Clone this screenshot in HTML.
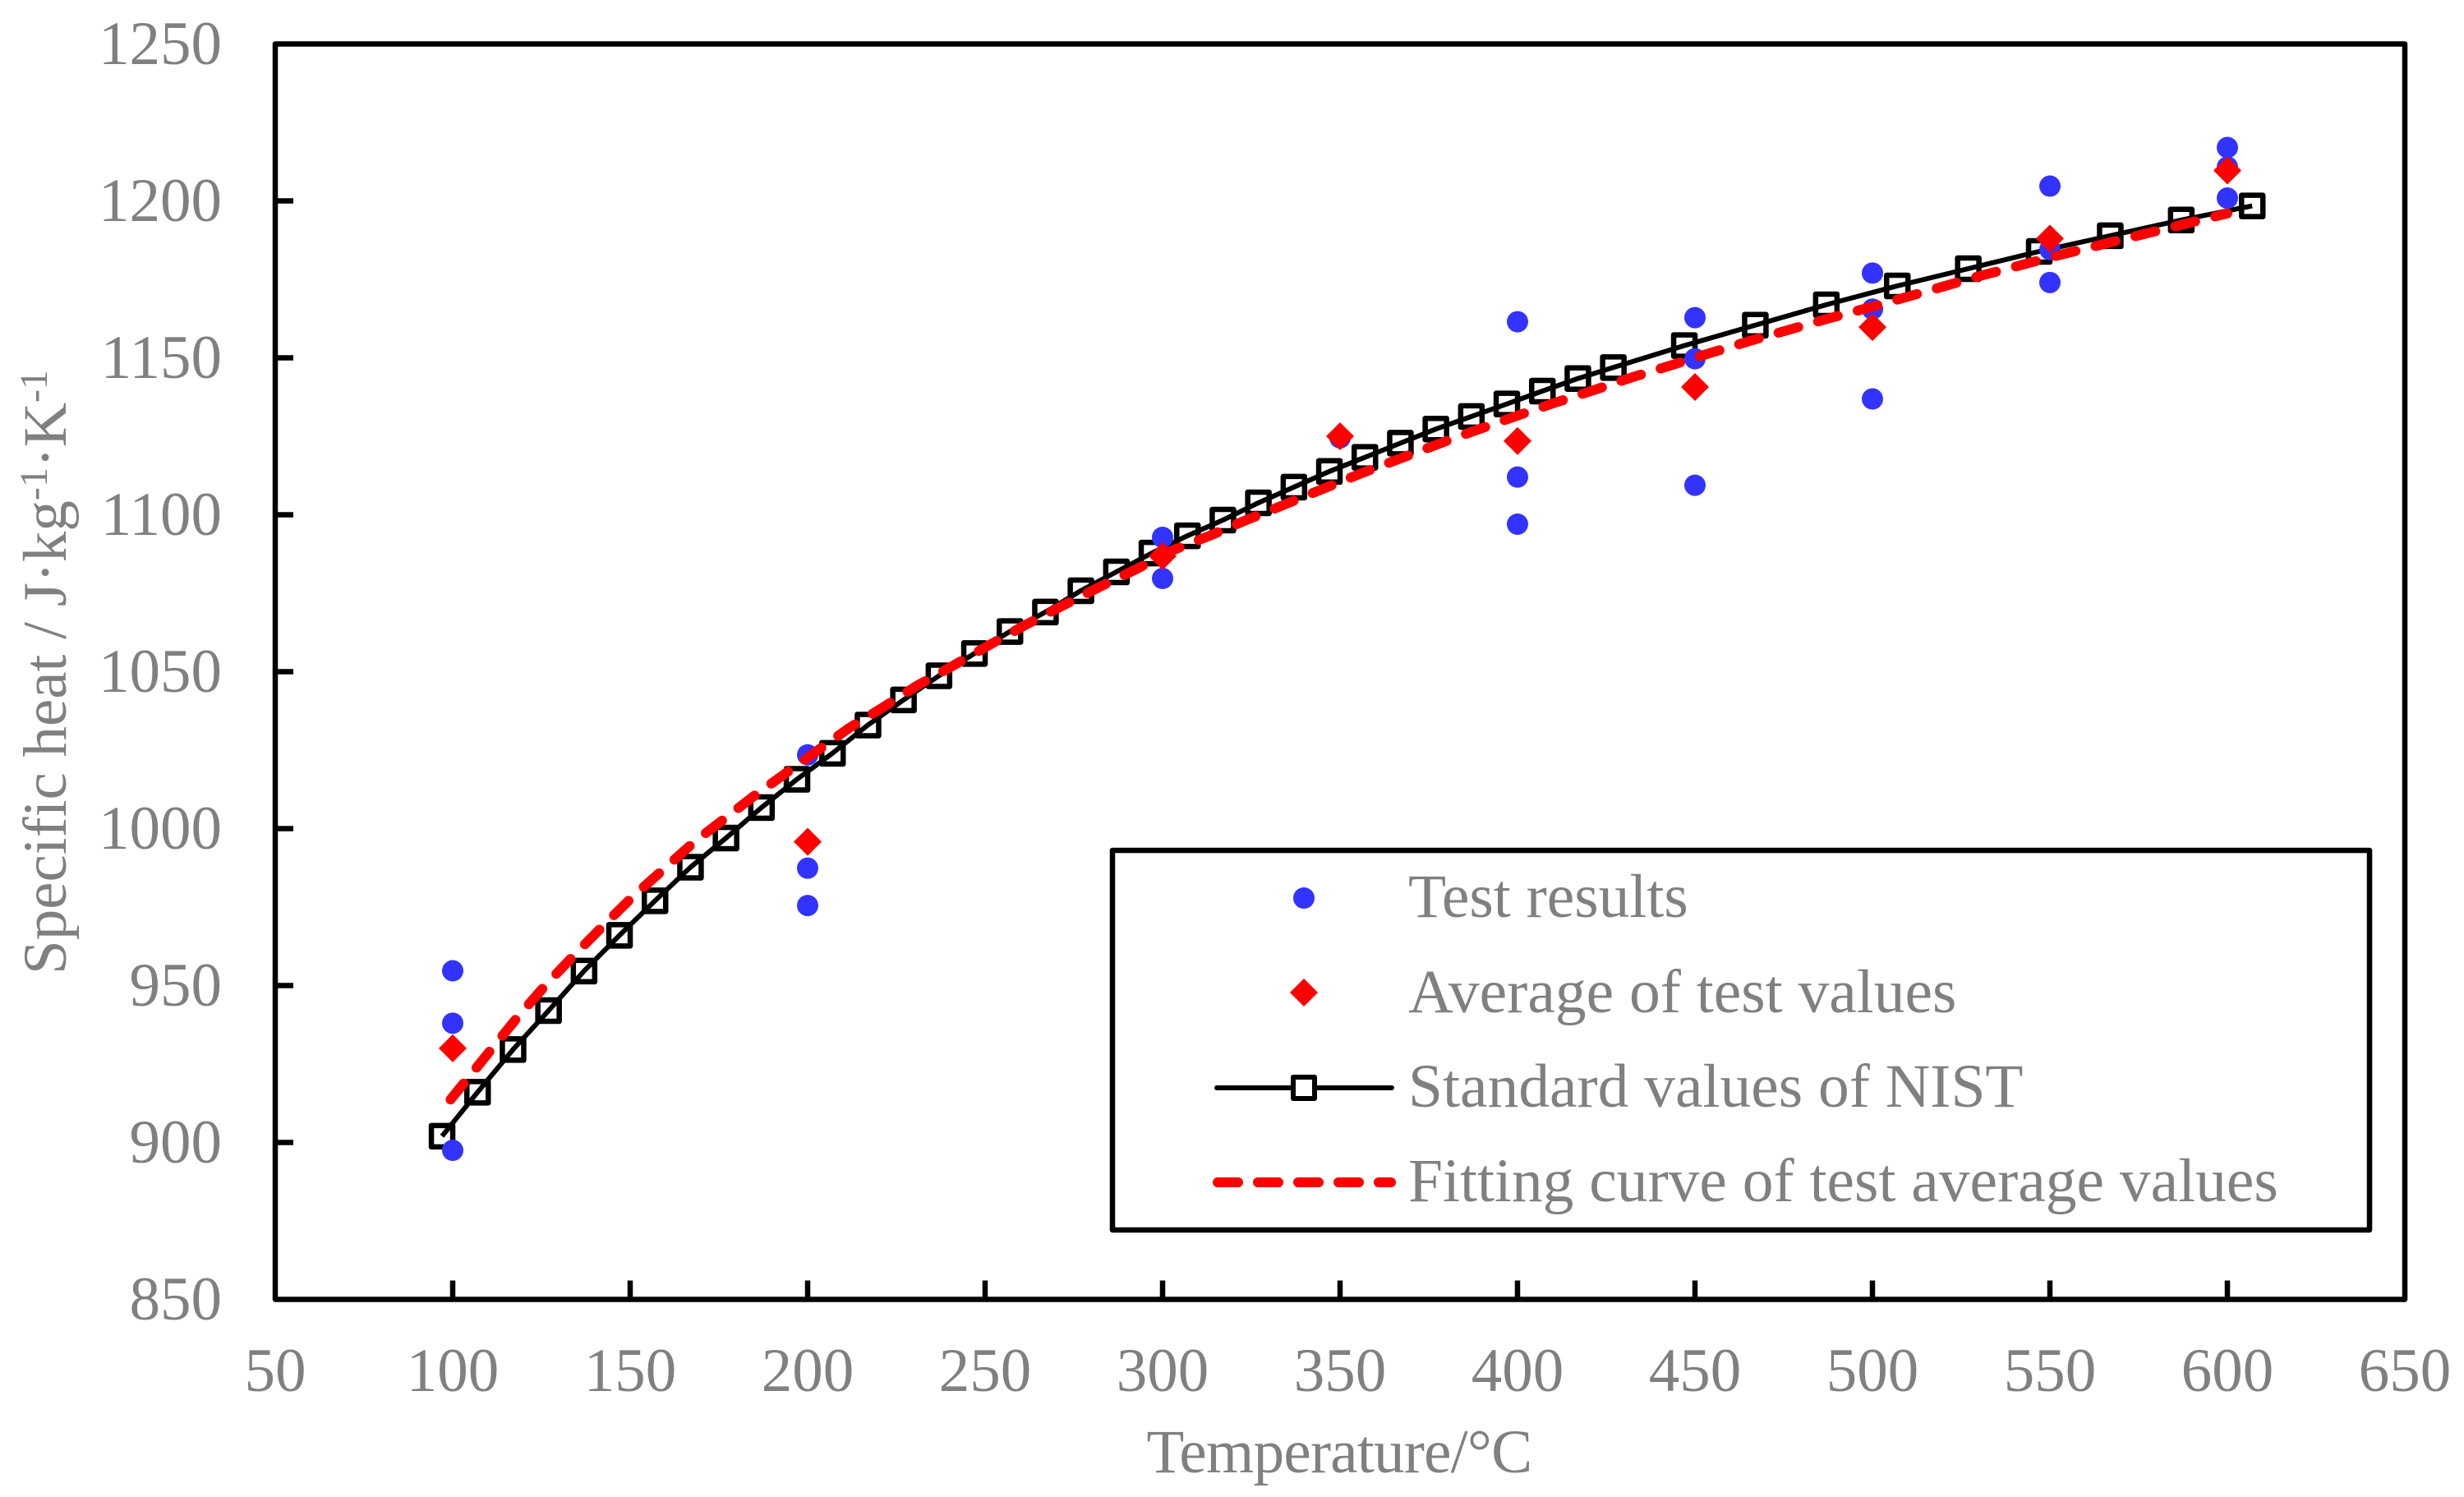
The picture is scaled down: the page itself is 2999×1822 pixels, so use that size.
<!DOCTYPE html>
<html lang="en">
<head>
<meta charset="utf-8">
<title>Specific heat vs temperature</title>
<style>
html,body{margin:0;padding:0;background:#fff;}
svg{display:block;}
text{font-family:"Liberation Serif","Noto Serif CJK SC",serif;fill:#808080;font-size:75px;}
.legend-text{font-size:75.5px;}
</style>
</head>
<body>
<svg id="chart" xmlns="http://www.w3.org/2000/svg" width="2999" height="1822" viewBox="0 0 2999 1822">
  <rect x="0" y="0" width="2999" height="1822" fill="#fff"/>
  <g id="series-layer"></g>
  <rect x="335" y="53.5" width="2592" height="1528" fill="none" stroke="#000" stroke-width="6.5" stroke-linejoin="round"/>
  <g id="ticks-layer"></g>
  <text x="1630" y="1792" text-anchor="middle" letter-spacing="-0.7">Temperature/°C</text>
  <text transform="translate(80 1186) rotate(-90)">Specific heat / J·kg<tspan dy="-23" style="font-size:48px">-1</tspan><tspan dy="23">·K</tspan><tspan dy="-23" style="font-size:48px">-1</tspan></text>
  <g>
    <rect x="1354" y="1035" width="1530" height="462" fill="#fff" stroke="#000" stroke-width="6.5" stroke-linejoin="round"/>
    <circle cx="1587" cy="1093" r="13" fill="#3333ff"/>
    <text class="legend-text" x="1714" y="1116">Test results</text>
    <polygon points="1587,1191 1604,1208 1587,1225 1570,1208" fill="#ff0000"/>
    <text class="legend-text" x="1714" y="1232">Average of test values</text>
    <line x1="1481" y1="1324" x2="1694" y2="1324" stroke="#000" stroke-width="6" stroke-linecap="round"/>
    <rect x="1574" y="1311" width="26" height="26" fill="#fff" stroke="#000" stroke-width="6" stroke-linejoin="round"/>
    <text class="legend-text" x="1714" y="1347">Standard values of NIST</text>
    <line x1="1482" y1="1439" x2="1693" y2="1439" stroke="#ff0000" stroke-width="12" stroke-linecap="round" stroke-dasharray="25 24"/>
    <text class="legend-text" x="1714" y="1462">Fitting curve of test average values</text>
  </g>
</svg>
<script>
var xTicks = [50,100,150,200,250,300,350,400,450,500,550,600,650];
var yTicks = [850,900,950,1000,1050,1100,1150,1200,1250];

var testTemps = [100,100,100,200,200,200,300,300,350,400,400,400,450,450,450,500,500,500,550,550,550,600,600,600];
var testValues = [954.7,938,897.5,1023.5,987.4,975.5,1092.8,1079.7,1124.5,1161.5,1112,1097,1162.8,1149.7,1109.4,1177,1165.5,1136.9,1204.7,1184.5,1174,1217,1210.8,1200.9];

var averageTemps = [100,200,300,350,400,450,500,550,600];
var averageValues = [930,995.8,1086.8,1125,1123.5,1140.7,1159.8,1188,1209.7];

var nistTemps = [97,107,117,127,137,147,157,167,177,187,197,207,217,227,237,247,257,267,277,287,297,307,317,327,337,347,357,367,377,387,397,407,417,427,447,467,487,507,527,547,567,587,607];
var nistValues = [902,916,929.6,942,954.6,966,977,987.7,997,1006.7,1015.7,1024,1033,1041,1048.7,1055.8,1062.8,1069,1075.8,1081.8,1087.8,1093.3,1098.3,1103.8,1108.8,1113.8,1118.3,1122.8,1127.3,1131.3,1135.3,1139.4,1143.4,1146.9,1153.9,1160.4,1166.9,1172.9,1178.4,1183.9,1188.9,1193.9,1198.4];

var fitTemps = [99.4,111.2,118.6,126.3,134.4,142.2,150.6,159.2,168,185,202.8,211.5,221.3,230.9,241.1,251.2,261.2,271.6,281.9,292.3,302.7,313.5,324,334.7,345.5,356,366.9,383,399.5,410.3,421.5,432.3,443.5,454.5,465.5,476.7,487.8,499,510,530,550,575,600];
var fitValues = [913.7,930.1,940.4,950.3,959.9,968.8,978.2,986.8,995.7,1010.5,1024.9,1031.9,1038.7,1045.6,1052,1058.5,1064.8,1070.9,1076.8,1082.5,1088.6,1093.4,1098.5,1103.4,1108.4,1113.2,1117.9,1124.8,1131.4,1135.6,1139.7,1143.8,1147.7,1151.6,1155.4,1159,1162.6,1166,1169.5,1176,1182,1189,1196];

var SVGNS = 'http://www.w3.org/2000/svg';
function xScale(t){ return 335 + (t - 50) * 4.32; }
function yScale(v){ return 1581.5 - (v - 850) * 3.82; }
function make(tag, parent){
  var el = document.createElementNS(SVGNS, tag);
  parent.appendChild(el);
  return el;
}
function linePoints(ts, vs){
  return ts.map(function(t, i){ return xScale(t).toFixed(1) + ',' + yScale(vs[i]).toFixed(1); }).join(' ');
}

var series = document.getElementById('series-layer');
var ticks = document.getElementById('ticks-layer');

var nistLine = make('polyline', series);


nistLine.setAttribute('points', linePoints(nistTemps, nistValues));
nistLine.setAttribute('fill', 'none');
nistLine.setAttribute('stroke', '#000');
nistLine.setAttribute('stroke-width', '6');
nistLine.setAttribute('stroke-linejoin', 'round');

nistTemps.forEach(function(t, i){
  var s = make('rect', series);
  
  
  s.setAttribute('x', xScale(t) - 13);
  s.setAttribute('y', yScale(nistValues[i]) - 13);
  s.setAttribute('width', 26);
  s.setAttribute('height', 26);
  s.setAttribute('fill', 'none');
  s.setAttribute('stroke', '#000');
  s.setAttribute('stroke-width', '6.5');
  s.setAttribute('stroke-linejoin', 'round');
});

testTemps.forEach(function(t, i){
  var c = make('circle', series);
  
  
  c.setAttribute('cx', xScale(t));
  c.setAttribute('cy', yScale(testValues[i]));
  c.setAttribute('r', 13);
  c.setAttribute('fill', '#3333ff');
});

var fitLine = make('polyline', series);


fitLine.setAttribute('points', linePoints(fitTemps, fitValues));
fitLine.setAttribute('fill', 'none');
fitLine.setAttribute('stroke', '#ff0000');
fitLine.setAttribute('stroke-width', '12');
fitLine.setAttribute('stroke-linecap', 'round');
fitLine.setAttribute('stroke-linejoin', 'round');
fitLine.setAttribute('stroke-dasharray', '25 25');

averageTemps.forEach(function(t, i){
  var d = make('polygon', series);
  
  
  var x = xScale(t), y = yScale(averageValues[i]);
  d.setAttribute('points', x + ',' + (y - 17) + ' ' + (x + 17) + ',' + y + ' ' + x + ',' + (y + 17) + ' ' + (x - 17) + ',' + y);
  d.setAttribute('fill', '#ff0000');
});

xTicks.forEach(function(t){
  var x = xScale(t);
  if (t > 50 && t < 650) {
    var m = make('line', ticks);
    
    
    m.setAttribute('x1', x);
    m.setAttribute('x2', x);
    m.setAttribute('y1', 1581.5);
    m.setAttribute('y2', 1558.5);
    m.setAttribute('stroke', '#000');
    m.setAttribute('stroke-width', '6.5');
  }
  var l = make('text', ticks);
  
  
  l.setAttribute('x', x);
  l.setAttribute('y', 1693);
  l.setAttribute('text-anchor', 'middle');
  l.textContent = t;
});

yTicks.forEach(function(v){
  var y = yScale(v);
  if (v > 850 && v < 1250) {
    var m = make('line', ticks);
    
    
    m.setAttribute('x1', 335);
    m.setAttribute('x2', 357);
    m.setAttribute('y1', y);
    m.setAttribute('y2', y);
    m.setAttribute('stroke', '#000');
    m.setAttribute('stroke-width', '6.5');
  }
  var l = make('text', ticks);
  
  
  l.setAttribute('x', 270);
  l.setAttribute('y', y + 24.5);
  l.setAttribute('text-anchor', 'end');
  l.textContent = v;
});
</script>
</body>
</html>
